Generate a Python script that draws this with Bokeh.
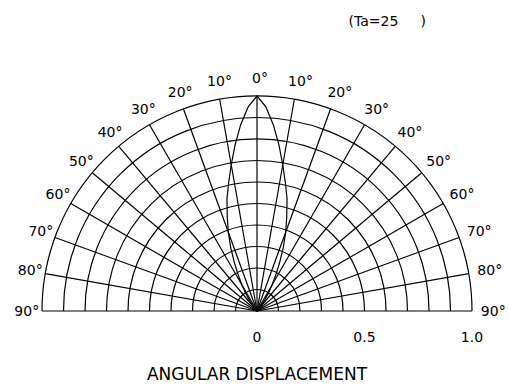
import numpy as np
from bokeh.plotting import figure
from bokeh.models import Label
from bokeh.core.properties import value
from bokeh.embed import file_html
from bokeh.resources import INLINE

# ---- data ----
grid_radii = [0.1, 0.2, 0.3, 0.4, 0.5, 0.6, 0.7, 0.8, 0.9, 1.0]
grid_angles = [-90, -80, -70, -60, -50, -40, -30, -20, -10, 0, 10, 20, 30, 40, 50, 60, 70, 80, 90]
angle_labels = ["90°", "80°", "70°", "60°", "50°", "40°", "30°", "20°", "10°", "0°",
                "10°", "20°", "30°", "40°", "50°", "60°", "70°", "80°", "90°"]
radius_ticks = [0, 0.5, 1.0]
radius_tick_labels = ["0", "0.5", "1.0"]
# radiation pattern (relative intensity vs angle in degrees), one side, symmetric
lobe_angle = [0, 2.5, 5, 7.5, 10, 12.5, 15, 17.5, 20, 22.5, 25, 27.5, 30, 32.5, 35, 37.5, 40, 45]
lobe_value = [1.00, 0.95, 0.87, 0.78, 0.69, 0.61, 0.54, 0.46, 0.39, 0.32, 0.25, 0.19, 0.14, 0.10, 0.06, 0.04, 0.02, 0.0]
title_text = "(Ta=25\u00a0\u00a0\u00a0\u00a0\u00a0)"
xlabel_text = "ANGULAR DISPLACEMENT"

# ---- layout ----
W, H = 509, 392
S = 215.0            # pixels per unit radius
CX, CY = 256.5, 81.5  # centre in canvas pixels (from left, from bottom)
FONT = "DejaVu Sans"

p = figure(width=W, height=H, output_backend="svg", toolbar_location=None,
           x_range=(-CX / S, (W - CX) / S), y_range=(-CY / S, (H - CY) / S),
           min_border=0, outline_line_color=None)
p.axis.visible = False
p.grid.visible = False
p.background_fill_color = "white"
p.border_fill_color = "white"

LW = 1.2
# concentric semicircles
p.arc(x=[0] * len(grid_radii), y=[0] * len(grid_radii), radius=grid_radii,
      start_angle=0, end_angle=np.pi, line_color="black", line_width=LW)
# radial lines
th = np.radians(grid_angles)
p.segment(x0=[0] * len(th), y0=[0] * len(th), x1=np.sin(th), y1=np.cos(th),
          line_color="black", line_width=LW)

# lobe
ang = [-a for a in lobe_angle[::-1]] + lobe_angle[1:]
val = lobe_value[::-1] + lobe_value[1:]
ar = np.radians(ang)
vv = np.array(val)
p.line(x=vv * np.sin(ar), y=vv * np.cos(ar), line_color="black", line_width=LW)

# angle labels
RL = 1.085
p.text(x=RL * np.sin(th), y=RL * np.cos(th), text=angle_labels,
       text_align="center", text_baseline="middle", x_offset=3,
       text_font_size="14px", text_color="black", text_font=value(FONT))

# radius labels
p.text(x=radius_ticks, y=[-26 / S] * len(radius_ticks), text=radius_tick_labels,
       text_align="center", text_baseline="middle",
       text_font_size="14px", text_color="black", text_font=value(FONT))

p.add_layout(Label(x=348, y=H - 20, x_units="screen", y_units="screen", text=title_text,
                   text_align="left", text_baseline="middle", text_font_size="14px",
                   text_font=FONT, text_color="black"))
p.add_layout(Label(x=CX, y=H - 373, x_units="screen", y_units="screen", text=xlabel_text,
                   text_align="center", text_baseline="middle", text_font_size="17px",
                   text_font=FONT, text_color="black"))

open("out.html", "w").write(file_html(p, INLINE))
